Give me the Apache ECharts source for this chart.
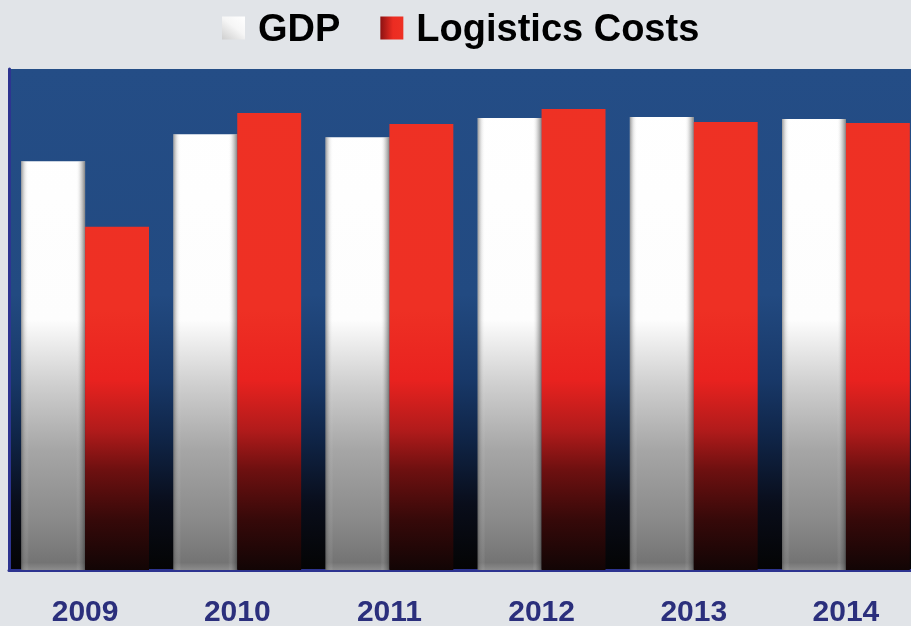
<!DOCTYPE html>
<html>
<head>
<meta charset="utf-8">
<script src="https://cdn.jsdelivr.net/npm/echarts@6/dist/echarts.min.js"></script>
<style>
  html, body { margin: 0; padding: 0; background: #e1e4e8; }
  #chart { width: 911px; height: 626px; }
</style>
</head>
<body>
<div id="chart"></div>
<script>
// Years on the category axis
const years = ['2009', '2010', '2011', '2012', '2013', '2014'];
// Index values (scale 0-100)
const gdp = [81.6, 87.0, 86.4, 90.2, 90.4, 90.0];
const logisticsCosts = [68.5, 91.2, 89.0, 92.0, 89.4, 89.2];
const seriesNames = ['GDP', 'Logistics Costs'];

const G = echarts.graphic;
const PLOT_TOP = 69, PLOT_BOTTOM = 570;

// Vertical fills shared by every bar, anchored to the plot height
const whiteFill = new G.LinearGradient(0, PLOT_TOP, 0, PLOT_BOTTOM, [
  { offset: 0, color: '#ffffff' },
  { offset: 0.5, color: '#fdfdfd' },
  { offset: 0.63, color: '#cfcfcf' },
  { offset: 0.76, color: '#a6a6a6' },
  { offset: 0.9, color: '#8a8a8a' },
  { offset: 0.985, color: '#747474' },
  { offset: 1, color: '#8c8c8c' }
], true);
const redFill = new G.LinearGradient(0, PLOT_TOP, 0, PLOT_BOTTOM, [
  { offset: 0, color: '#ee3124' },
  { offset: 0.48, color: '#ee3024' },
  { offset: 0.62, color: '#e9221f' },
  { offset: 0.72, color: '#b21b1b' },
  { offset: 0.8, color: '#6e1010' },
  { offset: 0.9, color: '#360909' },
  { offset: 1, color: '#120505' }
], true);
// Soft side shading on the white bars
const whiteEdges = new G.LinearGradient(0, 0, 1, 0, [
  { offset: 0, color: 'rgba(70,70,70,0.55)' },
  { offset: 0.06, color: 'rgba(150,150,150,0.2)' },
  { offset: 0.12, color: 'rgba(255,255,255,0)' },
  { offset: 0.86, color: 'rgba(255,255,255,0)' },
  { offset: 0.93, color: 'rgba(110,110,110,0.25)' },
  { offset: 1, color: 'rgba(50,50,50,0.6)' }
]);

// Legend swatch: a square sitting high in its box so it lines up with the caps of the text
const swatch = 'path://M0,0L23,0L23,23L0,23ZM0,29L23,29Z';

function barRenderer(side, fill, edges) {
  return function (params, api) {
    const top = api.coord([api.value(0), api.value(1)]);
    const base = api.coord([api.value(0), 0]);
    const w = api.size([1, 0])[0] * 0.42;
    const shape = {
      x: side < 0 ? top[0] - w : top[0],
      y: top[1],
      width: w,
      height: base[1] - top[1]
    };
    const children = [{ type: 'rect', shape: shape, style: { fill: fill } }];
    if (edges) children.push({ type: 'rect', shape: shape, style: { fill: edges } });
    return { type: 'group', children: children };
  };
}

const chart = echarts.init(document.getElementById('chart'), null, { renderer: 'canvas' });
chart.setOption({
  backgroundColor: '#e1e4e8',
  animation: false,
  legend: {
    left: 222,
    top: 12,
    padding: 0,
    icon: swatch,
    itemWidth: 23,
    itemHeight: 29,
    itemGap: 40,
    textStyle: {
      fontFamily: '"Liberation Sans", Arial, sans-serif',
      fontWeight: 'bold',
      fontSize: 38,
      color: '#000000',
      padding: [0, 0, 0, 8]
    },
    data: [
      { name: seriesNames[0], itemStyle: { borderWidth: 0, color: new G.LinearGradient(0, 1, 1, 0, [
        { offset: 0, color: '#c4c4c4' }, { offset: 0.6, color: '#f6f6f6' }, { offset: 1, color: '#ffffff' }]) } },
      { name: seriesNames[1], itemStyle: { borderWidth: 0, color: new G.LinearGradient(0, 0, 1, 0, [
        { offset: 0, color: '#8c1212' }, { offset: 0.55, color: '#ec2c22' }, { offset: 1, color: '#ee3124' }]) } }
    ]
  },
  grid: {
    show: true,
    left: 9,
    width: 913,
    top: PLOT_TOP,
    bottom: 626 - PLOT_BOTTOM,
    outerBoundsMode: 'none',
    containLabel: false,
    borderWidth: 0,
    backgroundColor: new G.LinearGradient(0, 0, 0, 1, [
      { offset: 0, color: '#244d86' },
      { offset: 0.45, color: '#224a81' },
      { offset: 0.62, color: '#183868' },
      { offset: 0.74, color: '#0f2446' },
      { offset: 0.87, color: '#090d1a' },
      { offset: 1, color: '#040404' }
    ])
  },
  xAxis: {
    type: 'category',
    data: years,
    axisLine: { show: true, lineStyle: { color: '#2d3490', width: 3 } },
    axisTick: { show: false },
    axisLabel: {
      margin: 28,
      fontFamily: '"Liberation Sans", Arial, sans-serif',
      fontWeight: 'bold',
      fontSize: 30,
      color: '#2b2f7c'
    }
  },
  yAxis: {
    type: 'value',
    min: 0,
    max: 100,
    axisLine: { show: true, lineStyle: { color: '#2d3490', width: 3 } },
    axisTick: { show: false },
    axisLabel: { show: false },
    splitLine: { show: false }
  },
  series: [
    {
      name: seriesNames[0],
      type: 'custom',
      clip: false,
      renderItem: barRenderer(-1, whiteFill, whiteEdges),
      data: gdp.map((v, i) => [i, v]),
      encode: { x: 0, y: 1 }
    },
    {
      name: seriesNames[1],
      type: 'custom',
      clip: false,
      renderItem: barRenderer(1, redFill, null),
      data: logisticsCosts.map((v, i) => [i, v]),
      encode: { x: 0, y: 1 }
    }
  ]
});
</script>
</body>
</html>
